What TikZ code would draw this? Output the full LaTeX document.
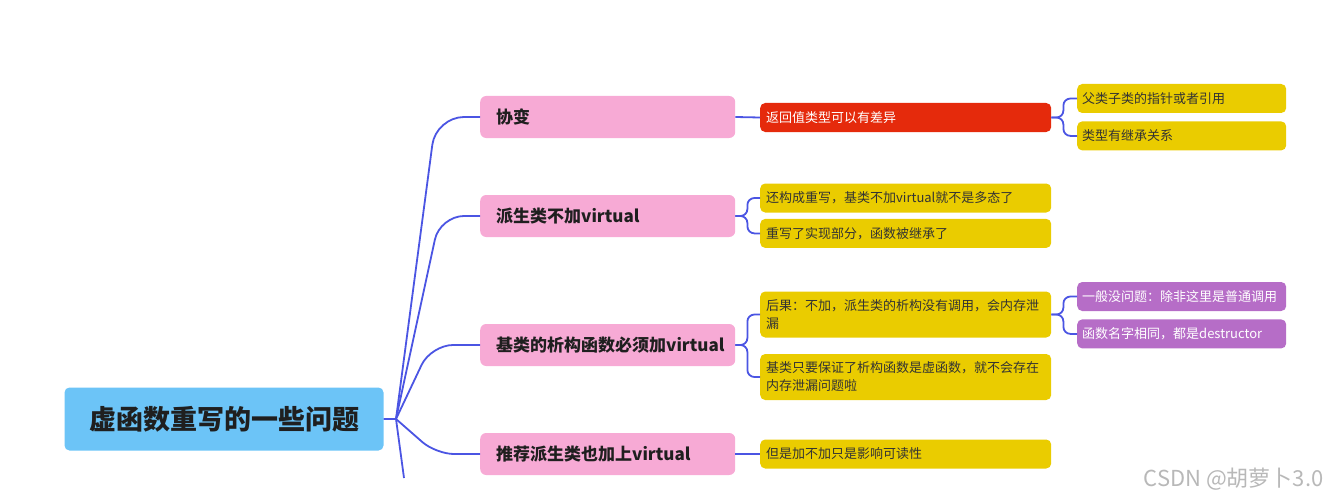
\documentclass[tikz,border=0pt]{standalone}
\usepackage{fontspec}
\setmainfont{Noto Sans CJK SC}
\usetikzlibrary{positioning}

\definecolor{rootblue}{HTML}{6CC4F7}
\definecolor{topicpink}{HTML}{F7AAD5}
\definecolor{leafgold}{HTML}{EACC00}
\definecolor{warnred}{HTML}{E52A0C}
\definecolor{notepurple}{HTML}{B66DC7}
\definecolor{linkblue}{HTML}{4B55E3}

\begin{document}
\begin{tikzpicture}[x=1pt, y=-1pt,
          node distance = 8pt,
          rootbox/.style = {fill=rootblue, rounded corners=5pt,
                        minimum width=319pt, minimum height=63pt,
                        text=black!88, font=\fontsize{27}{30}\selectfont\bfseries},
          topic/.style = {fill=topicpink, rounded corners=6pt, anchor=west,
                        text width=223pt, inner xsep=16pt, align=left,
                        minimum height=42pt, text=black!88,
                        font=\fontsize{17}{20}\selectfont\bfseries},
          leaf/.style = {fill=leafgold, rounded corners=5pt, anchor=west,
                        text width=279pt, inner xsep=6pt, align=left,
                        minimum height=29pt, text=black!80,
                        font=\fontsize{13}{18}\selectfont},
          twoline/.style = {minimum height=46pt},
          warn/.style = {leaf, fill=warnred, text=white},
          subleaf/.style = {leaf, text width=199pt, inner xsep=5pt},
          note/.style = {subleaf, fill=notepurple, text=white},
          link/.style = {draw=linkblue, line width=1.8pt}]
        \useasboundingbox (0,0) rectangle (1329,500);

        % centre and main branches
        \node[rootbox] (root) at (224,419) {虚函数重写的一些问题};
        \coordinate (hub)  at (396,419);
        \coordinate (tail) at (404,478);

        \node[topic] (cov)  at (480,117) {协变};
        \node[topic] (derv) at (480,216) {派生类不加virtual};
        \node[topic] (dtor) at (480,345) {基类的析构函数必须加virtual};
        \node[topic] (rec)  at (480,454) {推荐派生类也加上virtual};

        % second level
        \node[warn] (ret) at (760,117.5) {返回值类型可以有差异};
        \node[leaf] (still) at (760,198) {还构成重写，基类不加virtual就不是多态了};
        \node[leaf, below=6pt of still] (impl) {重写了实现部分，函数被继承了};
        \node[leaf, twoline] (leak) at (760,314.5)
              {后果：不加，派生类的析构没有调用，会内存泄\\漏};
        \node[leaf, twoline] (safe) at (760,377)
              {基类只要保证了析构函数是虚函数，就不会存在\\内存泄漏问题啦};
        \node[leaf] (read) at (760,454) {但是加不加只是影响可读性};

        % third level
        \node[subleaf] (ptr) at (1077,98.5) {父类子类的指针或者引用};
        \node[subleaf, below=8pt of ptr] (inh) {类型有继承关系};
        \node[note] (norm) at (1077,296.5) {一般没问题：除非这里是普通调用};
        \node[note, below=8pt of norm] (name) {函数名字相同，都是destructor};

        % links
        \draw[link] (root.east) -- (hub) -- (tail);
        \draw[link, rounded corners=28pt] (hub) -- (436,117) -- (cov.west);
        \draw[link, rounded corners=24pt] (hub) -- (440,216) -- (derv.west);
        \draw[link, rounded corners=22pt] (hub) -- (431,345) -- (dtor.west);
        \draw[link, rounded corners=18pt] (hub) -- (436,454) -- (rec.west);

        \draw[link] (cov.east) -- (ret.west);
        \draw[link, rounded corners=7pt] (derv.east) -- ++(12,0) |- (still.west);
        \draw[link, rounded corners=7pt] (derv.east) -- ++(12,0) |- (impl.west);
        \draw[link, rounded corners=7pt] (dtor.east) -- ++(12,0) |- (leak.west);
        \draw[link, rounded corners=7pt] (dtor.east) -- ++(12,0) |- (safe.west);
        \draw[link] (rec.east) -- (read.west);

        \draw[link, rounded corners=7pt] (ret.east) -- ++(12,0) |- (ptr.west);
        \draw[link, rounded corners=7pt] (ret.east) -- ++(12,0) |- (inh.west);
        \draw[link, rounded corners=7pt] (leak.east) -- ++(12,0) |- (norm.west);
        \draw[link, rounded corners=7pt] (leak.east) -- ++(12,0) |- (name.west);

        \node[anchor=east, text=black!28, font=\fontsize{22}{24}\selectfont]
              (mark) at (1327,479) {CSDN @胡萝卜3.0};
      \end{tikzpicture}
\end{document}
